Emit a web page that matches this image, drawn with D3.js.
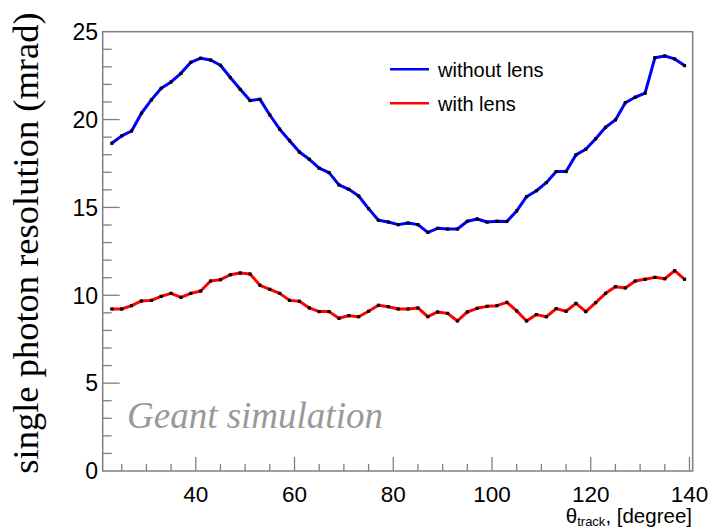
<!DOCTYPE html>
<html><head><meta charset="utf-8">
<script src="https://cdn.jsdelivr.net/npm/d3@7"></script>
<style>body{margin:0;background:#fff;}svg{display:block;}</style>
</head><body>
<svg id="c" width="711" height="530"></svg>
<script>
const theta = d3.range(23, 140, 2);
const withoutLens = [18.65,19.07,19.35,20.36,21.12,21.78,22.14,22.63,23.26,23.49,
  23.39,23.09,22.39,21.72,21.08,21.15,20.26,19.45,18.80,18.15,
  17.74,17.23,16.98,16.28,16.03,15.65,14.93,14.27,14.17,14.02,
  14.11,14.02,13.58,13.81,13.77,13.77,14.21,14.34,14.17,14.21,
  14.20,14.80,15.61,15.95,16.41,17.04,17.04,17.99,18.31,18.91,
  19.56,19.98,20.96,21.27,21.50,23.52,23.62,23.45,23.07];
const withLens = [9.22,9.22,9.41,9.68,9.71,9.94,10.11,9.88,10.11,10.24,
  10.81,10.89,11.17,11.27,11.21,10.57,10.34,10.11,9.71,9.66,
  9.28,9.07,9.07,8.69,8.84,8.78,9.09,9.43,9.35,9.22,
  9.22,9.28,8.78,9.05,8.97,8.54,9.05,9.26,9.37,9.41,
  9.60,9.11,8.54,8.90,8.78,9.24,9.09,9.54,9.07,9.58,
  10.11,10.49,10.42,10.81,10.91,11.02,10.94,11.40,10.91];
const xTicks = [40, 60, 80, 100, 120, 140];
const yTicks = [0, 5, 10, 15, 20, 25];
const seriesNames = ["without lens", "with lens"];
const seriesColors = ["#0000ff", "#ff0000"];

const L = 102.7, R = 692.7, T = 31.7, B = 471;
const x = d3.scaleLinear().domain([21.15, 140.65]).range([L, R]);
const y = d3.scaleLinear().domain([0, 25]).range([B, T]);
const svg = d3.select("#c");
const frameCol = "#7f7f7f";

// ticks
const g = svg.append("g");
g.selectAll(".xm").data(d3.range(25, 141, 5)).enter().append("line")
  .attr("x1", d => x(d)).attr("x2", d => x(d))
  .attr("y1", B).attr("y2", d => B - (d % 20 === 0 ? 14 : 7))
  .attr("stroke", frameCol).attr("stroke-width", 1.3);
g.selectAll(".ym").data(d3.range(1, 25, 1)).enter().append("line")
  .attr("y1", d => y(d)).attr("y2", d => y(d))
  .attr("x1", L).attr("x2", d => L + (d % 5 === 0 ? 17 : 9))
  .attr("stroke", frameCol).attr("stroke-width", 1.3);

// frame
svg.append("rect").attr("x", L).attr("y", T).attr("width", R - L).attr("height", B - T)
  .attr("fill", "none").attr("stroke", frameCol).attr("stroke-width", 1.5);

// tick labels
svg.selectAll(".xl").data(xTicks).enter().append("text")
  .attr("x", d => x(d)).attr("y", 502).attr("text-anchor", "middle")
  .attr("font-family", "Liberation Sans, Arial, sans-serif").attr("font-size", 22.5)
  .attr("fill", "#000").text(d => d);
svg.selectAll(".yl").data(yTicks).enter().append("text")
  .attr("x", 98).attr("y", d => y(d)).attr("dy", "0.36em").attr("text-anchor", "end")
  .attr("font-family", "Liberation Sans, Arial, sans-serif").attr("font-size", 23)
  .attr("fill", "#000").text(d => d);

// axis titles
const xt = svg.append("text").attr("x", 692).attr("y", 523).attr("text-anchor", "end")
  .attr("font-family", "Liberation Sans, Arial, sans-serif").attr("font-size", 20.5).attr("fill", "#000");
xt.append("tspan").text("θ");
xt.append("tspan").attr("font-size", 13).attr("dy", 3).text("track");
xt.append("tspan").attr("dy", -3).text(", [degree]");

svg.append("text").attr("transform", "translate(38,243) rotate(-90)")
  .attr("text-anchor", "middle").attr("font-family", "Liberation Serif, Times New Roman, serif")
  .attr("font-size", 36.5).attr("fill", "#000").text("single photon resolution (mrad)");

svg.append("text").attr("x", 127).attr("y", 428)
  .attr("font-family", "Liberation Serif, Times New Roman, serif").attr("font-style", "italic")
  .attr("font-size", 37).attr("fill", "#999").text("Geant simulation");

// series
const line = d3.line().x(d => x(d[0])).y(d => y(d[1]));
[withoutLens, withLens].forEach((vals, i) => {
  const pts = theta.map((t, j) => [t, vals[j]]);
  svg.append("path").datum(pts).attr("d", line).attr("fill", "none")
    .attr("stroke", seriesColors[i]).attr("stroke-width", 3).attr("stroke-linejoin", "round");
  svg.append("g").selectAll("rect").data(pts).enter().append("rect")
    .attr("x", d => x(d[0]) - 1.6).attr("y", d => y(d[1]) - 1.6)
    .attr("width", 3.2).attr("height", 3.2).attr("fill", "#000");
});

// legend
const legY = [69.3, 103.3];
seriesNames.forEach((n, i) => {
  svg.append("line").attr("x1", 390).attr("x2", 429).attr("y1", legY[i]).attr("y2", legY[i])
    .attr("stroke", seriesColors[i]).attr("stroke-width", 2.5);
  svg.append("text").attr("x", 438).attr("y", legY[i]).attr("dy", "0.36em")
    .attr("font-family", "Liberation Sans, Arial, sans-serif").attr("font-size", 20)
    .attr("fill", "#000").text(n);
});
</script>
</body></html>
